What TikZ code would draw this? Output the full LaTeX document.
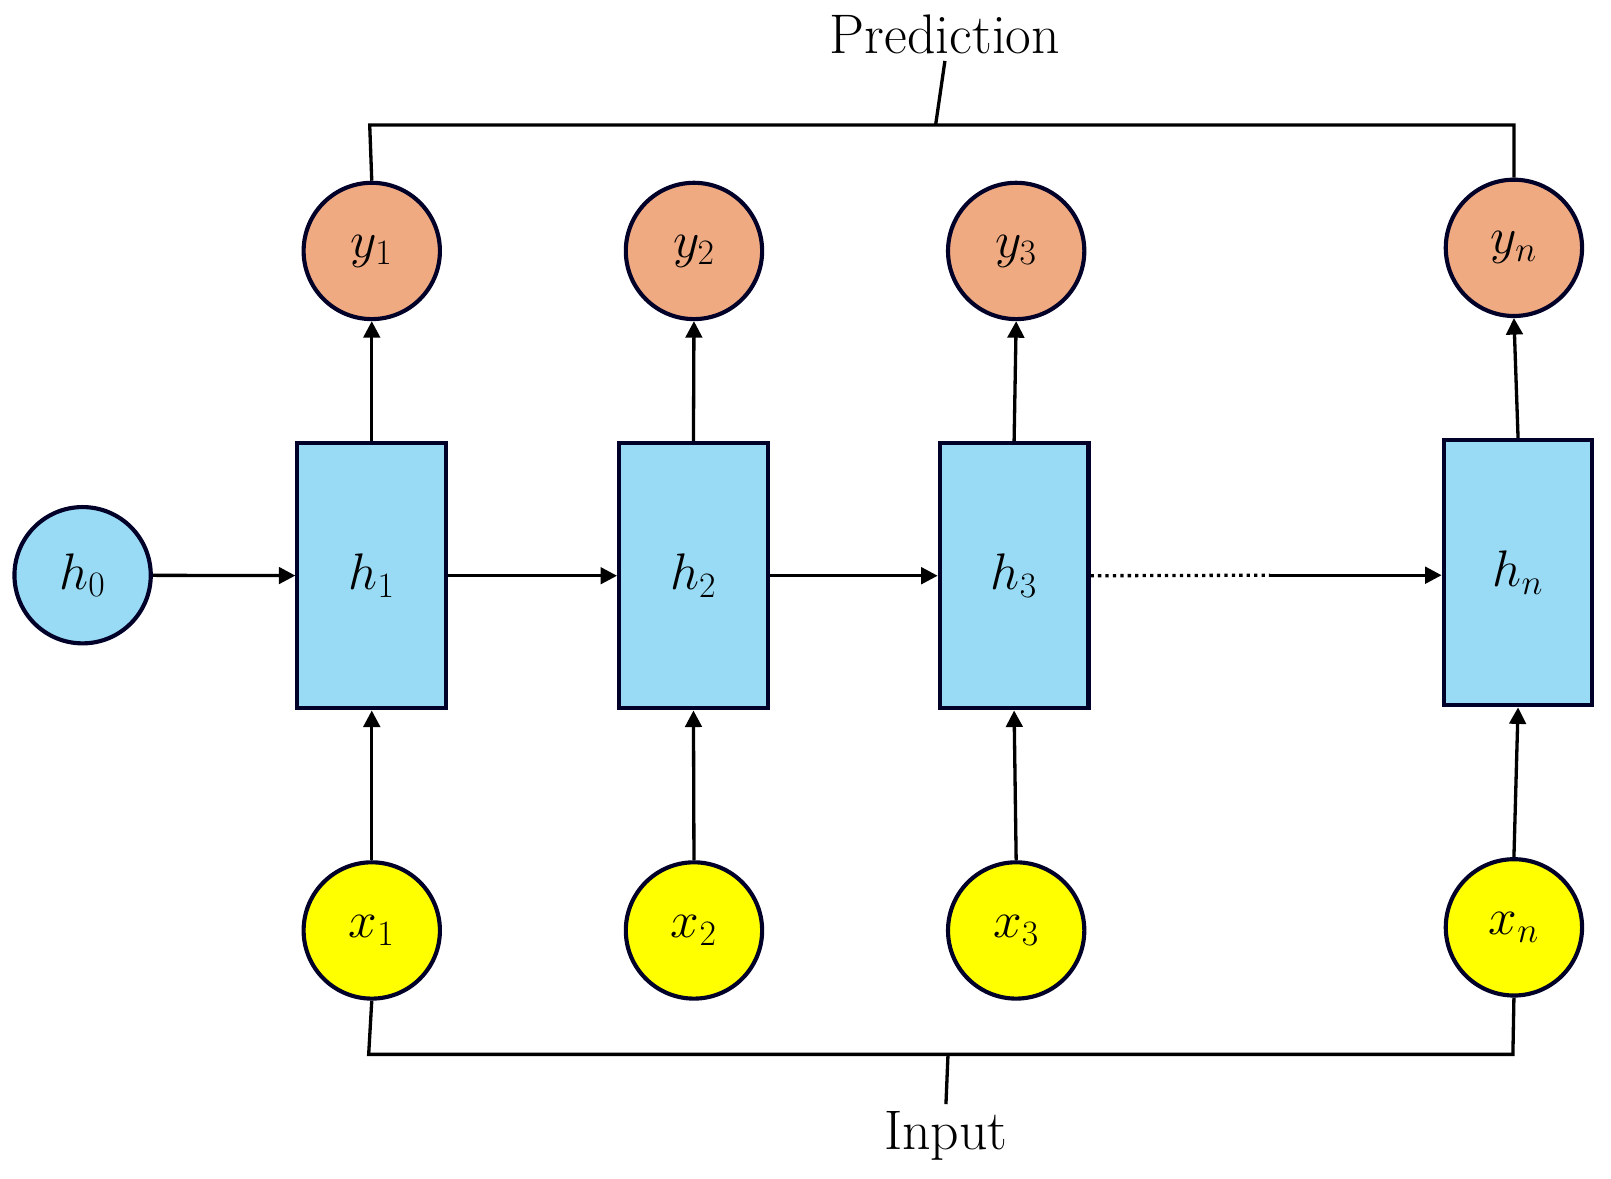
\documentclass[tikz,border=0pt]{standalone}
\usetikzlibrary{arrows.meta}
\begin{document}
\begin{tikzpicture}[x=0.5pt,y=-0.5pt,
  bd/.style={draw=black!60!blue!40!black,line width=2pt},
  circ/.style={bd,circle,minimum size=66pt,inner sep=0pt,font=\fontsize{24}{28}\selectfont},
  box/.style={bd,rectangle,minimum width=72pt,minimum height=128.5pt,inner sep=0pt,fill=hb,font=\fontsize{24}{28}\selectfont},
  ar/.style={line width=1.6pt,-{Triangle[length=8pt,width=8pt]}},
  ln/.style={line width=1.6pt}]
\definecolor{hb}{HTML}{99DBF5}
\definecolor{yo}{HTML}{F0AA82}
\definecolor{xy}{HTML}{FFFF00}
\useasboundingbox (0,0) rectangle (1560,1141);
\node[circ,fill=hb] (h0) at (80,557) {$h_0$};
\node[box] (h1) at (360,557.5) {$h_1$};
\node[box] (h2) at (671.5,557.5) {$h_2$};
\node[box] (h3) at (982,557.5) {$h_3$};
\node[box] (hn) at (1470,554.5) {$h_n$};
\foreach \n/\x/\y in {1/360/243,2/672/243,3/984/243,n/1466/240}{
  \node[circ,fill=yo] (y\n) at (\x,\y) {$y_{\n}$};}
\foreach \n/\x/\y in {1/360/901,2/672/901,3/984/901,n/1466/898}{
  \node[circ,fill=xy] (x\n) at (\x,\y) {$x_{\n}$};}
\draw[ar] (h0) -- (h1);
\draw[ar] (h1) -- (h2);
\draw[ar] (h2) -- (h3);
\coordinate (d) at (1230,557);
\draw[ln,dotted] (h3.east) -- (d);
\draw[ar] (d) -- (hn.west |- d);
\foreach \n in {1,2,3,n}{
  \draw[ar] (h\n.north) -- (y\n.south);
  \draw[ar] (x\n.north) -- (h\n.south);}
\node[font=\fontsize{27}{30}\selectfont] (pred) at (915,33) {Prediction};
\node[font=\fontsize{27}{30}\selectfont] (inp) at (916,1100) {Input};
\coordinate (tl) at (358,121); \coordinate (tr) at (1466,121);
\draw[ln] (y1.north) -- (tl) -- (tr) -- (yn.north);
\draw[ln] (906,121) -- (pred.south);
\coordinate (bl) at (357,1021); \coordinate (br) at (1465,1021);
\draw[ln] (x1.south) -- (bl) -- (br) -- (xn.south);
\draw[ln] (918,1021) -- (inp.north);
\end{tikzpicture}
\end{document}
